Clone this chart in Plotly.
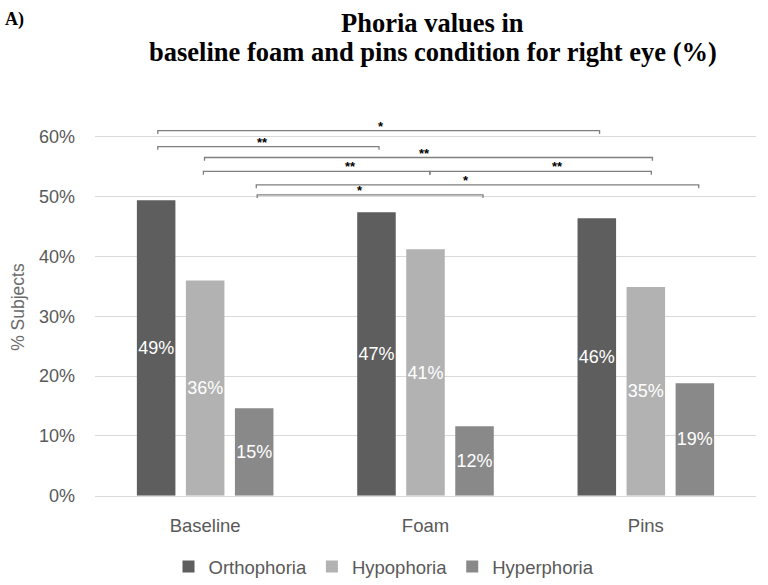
import plotly.graph_objects as go

categories = ["Baseline", "Foam", "Pins"]
series_names = ["Orthophoria", "Hypophoria", "Hyperphoria"]
orthophoria = [49.4, 47.4, 46.4]
hypophoria = [36.0, 41.2, 34.9]
hyperphoria = [14.6, 11.6, 18.8]
series_values = [orthophoria, hypophoria, hyperphoria]
colors = ["#5e5e5e", "#b2b2b2", "#898989"]
y_ticks = [0, 10, 20, 30, 40, 50, 60]
y_ticktext = ["0%", "10%", "20%", "30%", "40%", "50%", "60%"]

# significance brackets (x in category units, y in %)
br_x0 = [-0.215, -0.215, -0.003, -0.008, 1.020, 0.232, 0.236]
br_x1 = [1.790, 0.789, 2.030, 1.020, 2.025, 2.240, 1.261]
br_y = [61.05, 58.39, 56.56, 54.24, 54.24, 51.98, 50.32]
br_star_x = [0.800, 0.259, 0.996, 0.660, 1.600, 1.185, 0.704]
br_label = ["*", "**", "**", "**", "**", "*", "*"]
tick_drop = 0.55

fig = go.Figure()
xpos = list(range(len(categories)))
for name, vals, col in zip(series_names, series_values, colors):
    fig.add_trace(go.Bar(
        x=xpos, y=vals, name=name, marker=dict(color=col, line=dict(width=0)),
        texttemplate="%{y:.0f}%", textposition="inside", insidetextanchor="middle",
        textangle=0,
        textfont=dict(color="white", size=18, family="Liberation Sans"),
        constraintext="none", hoverinfo="skip"))

for x0, x1, y in zip(br_x0, br_x1, br_y):
    fig.add_trace(go.Scatter(
        x=[x0, x0, x1, x1], y=[y - tick_drop, y, y, y - tick_drop],
        mode="lines", line=dict(color="#7f7f7f", width=1.3),
        showlegend=False, hoverinfo="skip"))

for sx, y, lab in zip(br_star_x, br_y, br_label):
    fig.add_annotation(x=sx, y=y, text="<b>" + lab + "</b>", showarrow=False, yanchor="bottom",
                       yshift=-5, font=dict(size=13, color="black", family="Liberation Sans"))

# titles
fig.add_annotation(xref="paper", yref="paper", x=0.511, y=1.256, text="<b>Phoria values in</b>",
                   showarrow=False, xanchor="center", yanchor="middle",
                   font=dict(family="Liberation Serif", size=26.5, color="black"))
fig.add_annotation(xref="paper", yref="paper", x=0.511, y=1.177,
                   text="<b>baseline foam and pins condition for right eye (%)</b>",
                   showarrow=False, xanchor="center", yanchor="middle",
                   font=dict(family="Liberation Serif", size=26.5, color="black"))
fig.add_annotation(xref="paper", yref="paper", x=(14 - 95) / 661, y=(498 - 19) / 379, text="<b>A)</b>",
                   showarrow=False, xanchor="center", yanchor="middle",
                   font=dict(family="Liberation Serif", size=18, color="black"))
fig.add_annotation(xref="paper", yref="paper", x=(18 - 95) / 661, y=(498 - 308) / 379, text="% Subjects",
                   showarrow=False, xanchor="center", yanchor="middle", textangle=-90,
                   font=dict(family="Liberation Sans", size=17.5, color="#6b6b6b"))

fig.update_layout(
    width=768, height=585,
    margin=dict(l=95, r=12, t=119, b=87),
    plot_bgcolor="white", paper_bgcolor="white",
    barmode="group", bargap=0.3325, bargroupgap=0.214,
    font=dict(family="Liberation Sans", color="#595959"),
    legend=dict(orientation="h", xref="container", yref="container", x=0.5, y=0.031,
                xanchor="center", yanchor="middle", font=dict(size=18.5, color="#595959"),
                itemwidth=30, traceorder="normal", tracegroupgap=0),
    showlegend=True,
)
fig.update_xaxes(range=[-0.5, 2.5], tickvals=xpos, ticktext=categories, showgrid=False,
                 showline=True, linecolor="#d9d9d9", linewidth=1, ticks="",
                 tickfont=dict(size=18.5, color="#595959"), ticklabelstandoff=13, zeroline=False)
fig.update_yaxes(range=[0, 63], tickvals=y_ticks, ticktext=y_ticktext, showgrid=True,
                 gridcolor="#d9d9d9", gridwidth=1, zeroline=False, ticks="",
                 tickfont=dict(size=18, color="#595959"), ticklabelstandoff=19)

fig.write_html("out.html")
